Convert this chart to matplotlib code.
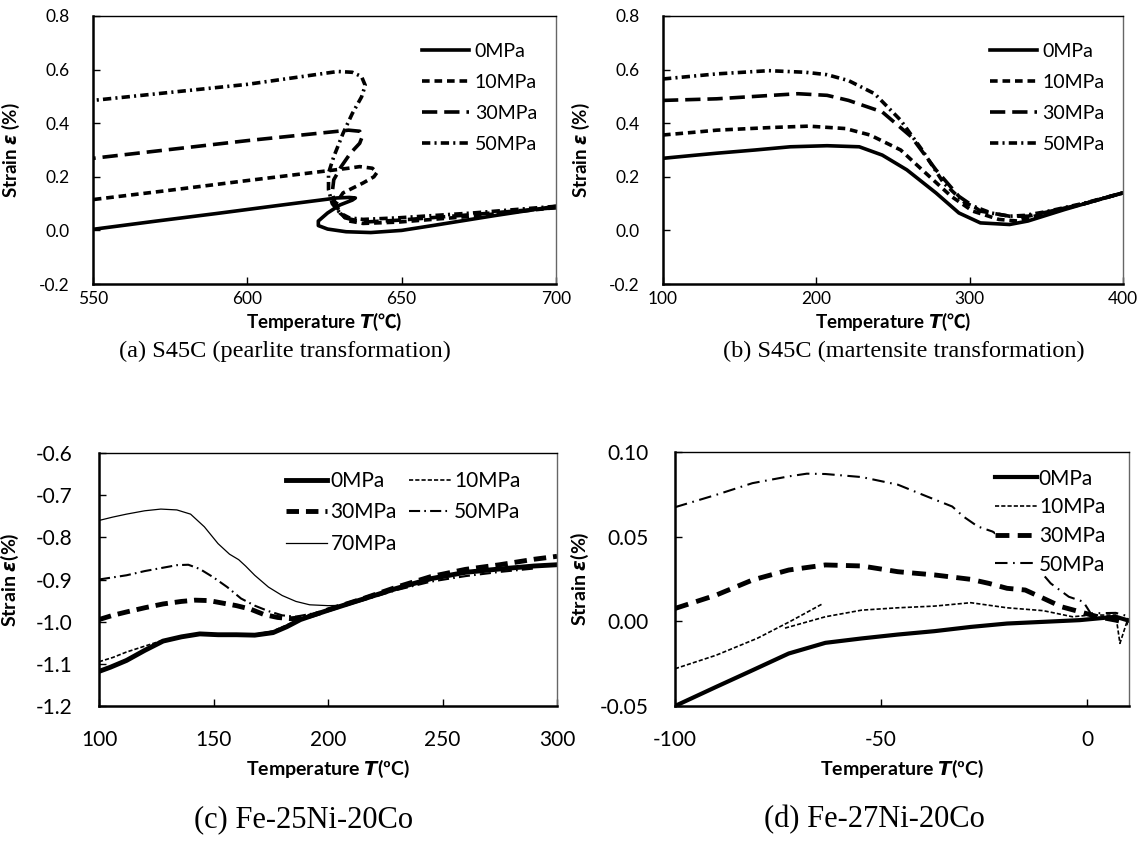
import matplotlib.pyplot as plt

W, H = 1145, 846
plt.rcParams['font.family'] = ['Lato', 'DejaVu Sans']
plt.rcParams['mathtext.fontset'] = 'custom'
plt.rcParams['mathtext.it'] = 'DejaVu Sans:italic:bold'
plt.rcParams['mathtext.rm'] = 'Lato:bold'
plt.rcParams['mathtext.sf'] = 'Noto Sans CJK JP:bold'
plt.rcParams['axes.unicode_minus'] = False
plt.rcParams['lines.scale_dashes'] = False

# ---- (a) S45C pearlite: cooling from 700, loop at transformation
a_T0 = [700, 680, 660, 650, 640, 632, 626, 623, 623, 626, 630, 634, 635, 633, 629, 610, 590, 570, 550]
a_v0 = [0.090, 0.055, 0.018, 0.000, -0.008, -0.005, 0.005, 0.018, 0.035, 0.065, 0.095, 0.113, 0.121, 0.123, 0.121, 0.093, 0.063, 0.034, 0.004]
a_T10 = [700, 673, 649, 637.5, 633, 630, 628.7, 631, 637.5, 641, 642, 640.5, 636.4, 632.8, 600, 575, 550]
a_v10 = [0.085, 0.053, 0.031, 0.026, 0.035, 0.065, 0.100, 0.140, 0.177, 0.200, 0.216, 0.232, 0.238, 0.232, 0.186, 0.150, 0.115]
a_T30 = [700, 673, 649, 637.5, 631.6, 628.7, 627.5, 628, 630.4, 633.4, 636.4, 637.3, 636.4, 632.8, 600, 575, 550]
a_v30 = [0.085, 0.059, 0.038, 0.031, 0.047, 0.090, 0.140, 0.189, 0.238, 0.288, 0.325, 0.352, 0.370, 0.374, 0.335, 0.302, 0.269]
a_T50 = [700, 673, 649, 637.5, 633, 630, 627.5, 626.3, 626.3, 628, 631, 634, 637, 638.2, 637, 634, 629.3, 600, 575, 550]
a_v50 = [0.090, 0.065, 0.047, 0.041, 0.047, 0.065, 0.100, 0.152, 0.214, 0.275, 0.362, 0.436, 0.498, 0.541, 0.574, 0.590, 0.593, 0.545, 0.515, 0.485]

# ---- (b) S45C martensite
b_T0 = [100, 120, 135, 160, 183, 207, 228, 243, 259, 278, 293, 307, 326, 338, 362, 380, 400]
b_v0 = [0.269, 0.280, 0.288, 0.300, 0.312, 0.316, 0.312, 0.281, 0.226, 0.140, 0.065, 0.028, 0.022, 0.035, 0.078, 0.108, 0.140]
b_T10 = [100, 120, 135, 171, 195, 219, 235, 255, 269, 288, 302, 319, 331, 350, 375, 400]
b_v10 = [0.356, 0.366, 0.374, 0.384, 0.389, 0.380, 0.356, 0.300, 0.226, 0.127, 0.072, 0.041, 0.035, 0.065, 0.100, 0.140]
b_T30 = [100, 135, 171, 188, 207, 221, 243, 262, 278, 293, 307, 326, 338, 350, 375, 400]
b_v30 = [0.485, 0.491, 0.504, 0.510, 0.504, 0.485, 0.442, 0.349, 0.226, 0.127, 0.072, 0.053, 0.053, 0.068, 0.100, 0.140]
b_T50 = [100, 135, 169, 193, 207, 221, 238, 255, 269, 283, 297, 314, 326, 336, 350, 375, 400]
b_v50 = [0.565, 0.584, 0.596, 0.590, 0.581, 0.559, 0.510, 0.411, 0.300, 0.177, 0.102, 0.065, 0.053, 0.056, 0.070, 0.102, 0.140]

# ---- (c) Fe-25Ni-20Co
c_T0 = [100, 105, 112, 120, 128, 136, 144, 152, 160, 168, 176, 182, 188, 195, 200, 215, 230, 245, 260, 275, 290, 300]
c_v0 = [-1.118, -1.108, -1.092, -1.068, -1.046, -1.036, -1.029, -1.031, -1.031, -1.032, -1.026, -1.012, -0.995, -0.982, -0.973, -0.947, -0.921, -0.898, -0.883, -0.875, -0.868, -0.865]
c_T10 = [100, 106, 112, 120, 128, 136, 144, 152, 160, 168, 176, 182, 188, 195, 200, 215, 230, 245, 260, 275, 290, 300]
c_v10 = [-1.095, -1.085, -1.072, -1.058, -1.044, -1.035, -1.029, -1.030, -1.030, -1.030, -1.022, -1.008, -0.993, -0.980, -0.972, -0.946, -0.920, -0.897, -0.882, -0.874, -0.867, -0.863]
c_T30 = [100, 106, 112, 120, 128, 136, 142, 148, 154, 160, 166, 172, 178, 184, 190, 196, 200, 215, 230, 245, 260, 275, 290, 300]
c_v30 = [-0.995, -0.985, -0.977, -0.967, -0.958, -0.952, -0.949, -0.950, -0.956, -0.962, -0.970, -0.983, -0.990, -0.993, -0.990, -0.980, -0.972, -0.946, -0.918, -0.893, -0.876, -0.865, -0.852, -0.845]
c_T50 = [100, 106, 112, 120, 128, 134, 139, 144, 150, 156, 162, 168, 174, 180, 186, 192, 200, 215, 230, 245, 260, 275, 290]
c_v50 = [-0.900, -0.895, -0.890, -0.880, -0.872, -0.866, -0.865, -0.875, -0.895, -0.918, -0.945, -0.962, -0.975, -0.985, -0.988, -0.982, -0.973, -0.950, -0.925, -0.905, -0.892, -0.882, -0.874]
c_T70 = [100, 106, 112, 120, 127, 134, 140, 146, 152, 157, 161, 164, 168, 174, 180, 186, 192, 200, 208, 215, 230, 245, 260, 275, 290, 300]
c_v70 = [-0.760, -0.752, -0.745, -0.737, -0.733, -0.735, -0.745, -0.775, -0.815, -0.840, -0.853, -0.868, -0.890, -0.918, -0.938, -0.952, -0.960, -0.962, -0.961, -0.950, -0.922, -0.898, -0.882, -0.873, -0.867, -0.864]

# ---- (d) Fe-27Ni-20Co
d_T0 = [-100, -90, -81.2, -72.4, -63.5, -54.7, -45.9, -37, -28.2, -19.4, -10.6, -1.8, 7, 10]
d_v0 = [-0.050, -0.0387, -0.0289, -0.019, -0.0127, -0.0101, -0.0078, -0.0058, -0.0033, -0.0013, -0.0003, 0.0007, 0.0027, 0.0005]
d_T10 = [-100, -90, -80, -72, -64, None, -73.3, -63.5, -54.7, -45.9, -37, -28.2, -19.4, -10.6, -3.5, 0.9, 7, 8, 10]
d_v10 = [-0.028, -0.020, -0.010, 0.000, 0.0106, None, -0.004, 0.0027, 0.0066, 0.008, 0.009, 0.011, 0.008, 0.0063, 0.0027, 0.0037, 0.0037, -0.013, 0.002]
d_T30 = [-100, -90, -81.2, -72.4, -63.5, -54.7, -45.9, -37, -28.2, -23.8, -19.4, -15, -10.6, -6.2, -1.8, 2.6, 7, 10]
d_v30 = [0.0076, 0.0155, 0.0244, 0.0303, 0.0333, 0.0327, 0.0293, 0.0274, 0.0248, 0.0224, 0.0195, 0.0185, 0.0136, 0.0086, 0.0057, 0.0027, 0.0007, -0.001]
d_T50 = [-100, -90, -81.2, -72.4, -68, -63.5, -54.7, -45.9, -38.8, -32.7, -30, -26.5, -22.9, -15, -8.8, -4.4, -0.9, 0.9, 7, 10]
d_v50 = [0.0674, 0.0747, 0.0816, 0.0856, 0.0872, 0.087, 0.0852, 0.0807, 0.0737, 0.0678, 0.0619, 0.056, 0.053, 0.040, 0.0224, 0.0145, 0.0116, 0.0047, 0.0050, 0.0030]

labels4 = ['0MPa', '10MPa', '30MPa', '50MPa']

top_yticks = [-0.2, 0.0, 0.2, 0.4, 0.6, 0.8]
c_yticks = [-1.2, -1.1, -1.0, -0.9, -0.8, -0.7, -0.6]
d_yticks = [-0.05, 0.0, 0.05, 0.10]

fig = plt.figure(figsize=(W / 100, H / 100), dpi=100)


def box(l, t, r, b):
    return [l / W, 1 - b / H, (r - l) / W, (b - t) / H]


def style(ax, xlim, ylim, xt, yt, yfmt, fs, ypad, xpad):
    ax.set_xlim(xlim)
    ax.set_ylim(ylim)
    ax.set_xticks(xt)
    ax.set_yticks(yt)
    ax.set_yticklabels([yfmt % v for v in yt])
    ax.tick_params(direction='in', length=5, width=1, labelsize=fs)
    ax.tick_params(axis='y', pad=ypad)
    ax.tick_params(axis='x', pad=xpad)
    for s in ['left', 'bottom']:
        ax.spines[s].set_linewidth(1.8)
    ax.spines['top'].set_linewidth(1.0)
    ax.spines['right'].set_linewidth(1.0)
    ax.spines['right'].set_color('#666666')


sty_top = [dict(ls='-', lw=2.6),
           dict(ls=(0, (5.5, 3.5)), lw=2.6),
           dict(ls=(0, (11, 5)), lw=2.6),
           dict(ls=(0, (6, 3, 1.5, 3)), lw=2.6)]

top_xlabel = r'Temperature $T$($\mathsf{℃}$)'
bot_xlabel = 'Temperature $T$(ºC)'
ylab = r'Strain $\varepsilon$ (%)'

# (a)
ax = fig.add_axes(box(93, 16, 556, 284))
for T, v, lab, st in zip([a_T0, a_T10, a_T30, a_T50], [a_v0, a_v10, a_v30, a_v50], labels4, sty_top):
    ax.plot(T, v, color='black', label=lab, **st)
style(ax, (550, 700), (-0.2, 0.8), [550, 600, 650, 700], top_yticks, '%.1f', 12.5, 17, 5)
ax.set_xlabel(top_xlabel, fontsize=13.5, fontweight='bold')
ax.xaxis.set_label_coords(0.5, -0.10)
ax.set_ylabel(ylab, fontsize=13.5, fontweight='bold')
ax.yaxis.set_label_coords(-0.153, 0.5)
ax.legend(loc='upper left', bbox_to_anchor=(0.69, 0.935), frameon=False, fontsize=14,
          handlelength=2.4, handletextpad=0.3, labelspacing=0.72, borderpad=0)

# (b)
ax = fig.add_axes(box(663, 16, 1123, 284))
for T, v, lab, st in zip([b_T0, b_T10, b_T30, b_T50], [b_v0, b_v10, b_v30, b_v50], labels4, sty_top):
    ax.plot(T, v, color='black', label=lab, **st)
style(ax, (100, 400), (-0.2, 0.8), [100, 200, 300, 400], top_yticks, '%.1f', 12.5, 17, 5)
ax.set_xlabel(top_xlabel, fontsize=13.5, fontweight='bold')
ax.xaxis.set_label_coords(0.5, -0.10)
ax.set_ylabel(ylab, fontsize=13.5, fontweight='bold')
ax.yaxis.set_label_coords(-0.155, 0.5)
ax.legend(loc='upper left', bbox_to_anchor=(0.69, 0.935), frameon=False, fontsize=14,
          handlelength=2.4, handletextpad=0.3, labelspacing=0.72, borderpad=0)

# (c)
ax = fig.add_axes(box(99, 453, 557, 706))
c_data = [(c_T0, c_v0, '0MPa', dict(ls='-', lw=3.5)),
          (c_T10, c_v10, '10MPa', dict(ls=(0, (3, 1.5)), lw=1.2)),
          (c_T30, c_v30, '30MPa', dict(ls=(0, (9, 5)), lw=3.5)),
          (c_T50, c_v50, '50MPa', dict(ls=(0, (8, 3, 1.2, 3)), lw=1.5)),
          (c_T70, c_v70, '70MPa', dict(ls='-', lw=0.9))]
lines = {}
for T, v, lab, st in c_data:
    lines[lab], = ax.plot(T, v, color='black', label=lab, **st)
style(ax, (100, 300), (-1.2, -0.6), [100, 150, 200, 250, 300], c_yticks, '%.1f', 15, 19, 17)
ax.set_xlabel(bot_xlabel, fontsize=14, fontweight='bold')
ax.xaxis.set_label_coords(0.5, -0.205)
ax.set_ylabel(r'Strain $\varepsilon$(%)', fontsize=14, fontweight='bold')
ax.yaxis.set_label_coords(-0.17, 0.5)
order = ['0MPa', '30MPa', '70MPa', '10MPa', '50MPa']
ax.legend([lines[k] for k in order], order, ncol=2, loc='upper left',
          bbox_to_anchor=(0.385, 0.97), frameon=False, fontsize=15,
          handlelength=2.0, handletextpad=0.15, labelspacing=0.55, columnspacing=0.6,
          borderpad=0)

# (d)
ax = fig.add_axes(box(675, 452, 1129, 706))
d_data = [(d_T0, d_v0, '0MPa', dict(ls='-', lw=3)),
          (d_T10, d_v10, '10MPa', dict(ls=(0, (3, 1.5)), lw=1.2)),
          (d_T30, d_v30, '30MPa', dict(ls=(0, (10, 6)), lw=3.5)),
          (d_T50, d_v50, '50MPa', dict(ls=(0, (9, 4, 1.2, 4)), lw=1.5))]
for T, v, lab, st in d_data:
    Tn = [float('nan') if t is None else t for t in T]
    vn = [float('nan') if t is None else t for t in v]
    ax.plot(Tn, vn, color='black', label=lab, **st)
style(ax, (-100, 10.2), (-0.05, 0.10), [-100, -50, 0], d_yticks, '%.2f', 15, 19, 17)
ax.set_xlabel(bot_xlabel, fontsize=14, fontweight='bold')
ax.xaxis.set_label_coords(0.5, -0.205)
ax.set_ylabel(r'Strain $\varepsilon$(%)', fontsize=14, fontweight='bold')
ax.yaxis.set_label_coords(-0.185, 0.5)
leg = ax.legend(loc='upper left', bbox_to_anchor=(0.705, 0.935), frameon=True, fontsize=15,
                handlelength=2.0, handletextpad=0.1, labelspacing=0.42, borderpad=0,
                borderaxespad=0, fancybox=False)
leg.get_frame().set_edgecolor('none')
leg.get_frame().set_facecolor('white')
leg.get_frame().set_alpha(1)

# captions
cap = dict(family='Liberation Serif', ha='center', va='center')
fig.text(285 / W, 1 - 351 / H, '(a) S45C (pearlite transformation)', fontsize=17.5, **cap)
fig.text(904 / W, 1 - 351 / H, '(b) S45C (martensite transformation)', fontsize=17.5, **cap)
fig.text(304 / W, 1 - 820 / H, '(c) Fe-25Ni-20Co', fontsize=22, **cap)
fig.text(874 / W, 1 - 820 / H, '(d) Fe-27Ni-20Co', fontsize=22, **cap)

fig.savefig('out.png', dpi=100)
